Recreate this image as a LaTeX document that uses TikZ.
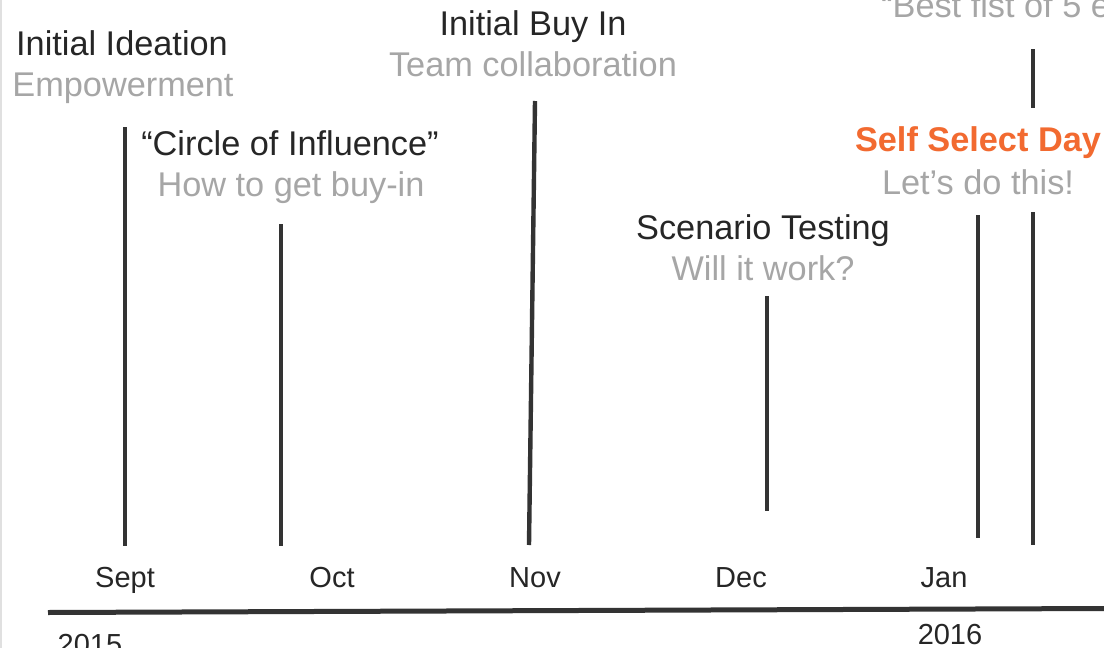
\documentclass[tikz,border=0pt]{standalone}
\usepackage{fontspec}
\setmainfont{Liberation Sans}
\begin{document}
\definecolor{inkdark}{HTML}{262626}
\definecolor{inkgray}{HTML}{A6A6A6}
\definecolor{inkorange}{HTML}{F26A30}
\definecolor{barcol}{HTML}{333333}
\begin{tikzpicture}[x=1pt,y=-1pt,
  title/.style={anchor=base,inner sep=0pt,text=inkdark,font=\fontsize{34.3}{40}\selectfont},
  sub/.style={anchor=base,inner sep=0pt,text=inkgray,font=\fontsize{34.3}{40}\selectfont},
  hot/.style={anchor=base,inner sep=0pt,text=inkorange,font=\fontsize{34.3}{40}\selectfont\bfseries},
  month/.style={anchor=base,inner sep=0pt,text=inkdark,font=\fontsize{29}{34}\selectfont},
  bar/.style={draw=barcol,line width=4.4pt},
  axis/.style={draw=barcol,line width=5pt}]
\useasboundingbox (0,0) rectangle (1104,648);
\clip (0,0) rectangle (1104,648);
\fill[white] (0,0) rectangle (1104,648);
% thin frame edge on the left
\draw[draw=black!12,line width=1.5pt] (1,0) -- (1,648);

% milestone labels
\node[title] (t1) at (122,55) {Initial Ideation};
\node[sub]   (s1) at (123,96) {Empowerment};
\node[title] (t2) at (290,155) {“Circle of Influence”};
\node[sub]   (s2) at (291,196) {How to get buy-in};
\node[title] (t3) at (533,35) {Initial Buy In};
\node[sub]   (s3) at (533,76) {Team collaboration};
\node[title] (t4) at (763,239) {Scenario Testing};
\node[sub]   (s4) at (763,280) {Will it work?};
\node[hot]   (t5) at (978,151) {Self Select Day};
\node[sub]   (s5) at (978,194) {Let’s do this!};
\node[sub,anchor=base west] (s6) at (881,17) {“Best fist of 5 e};

% milestone bars
\coordinate (a1) at (125,127);  \coordinate (b1) at (125,546);
\coordinate (a2) at (281,224);  \coordinate (b2) at (281,546);
\coordinate (a3) at (535,101);  \coordinate (b3) at (529,545);
\coordinate (a4) at (767,296);  \coordinate (b4) at (767,511);
\coordinate (a5) at (978,215);  \coordinate (b5) at (978,538);
\coordinate (a6) at (1033,212); \coordinate (b6) at (1033,545);
\coordinate (a7) at (1033,49);  \coordinate (b7) at (1033,108);
\foreach \i in {1,...,7} {\draw[bar] (a\i) -- (b\i);}

% time axis
\coordinate (ax0) at (48,612.5);
\coordinate (ax1) at (1106,608.5);
\draw[axis] (ax0) -- (ax1);

% month and year labels
\node[month] (m1) at (125,587) {Sept};
\node[month] (m2) at (332,587) {Oct};
\node[month] (m3) at (535,587) {Nov};
\node[month] (m4) at (741,587) {Dec};
\node[month] (m5) at (944,587) {Jan};
\node[month] (y1) at (90,654) {2015};
\node[month] (y2) at (950,644) {2016};
\end{tikzpicture}
\end{document}
